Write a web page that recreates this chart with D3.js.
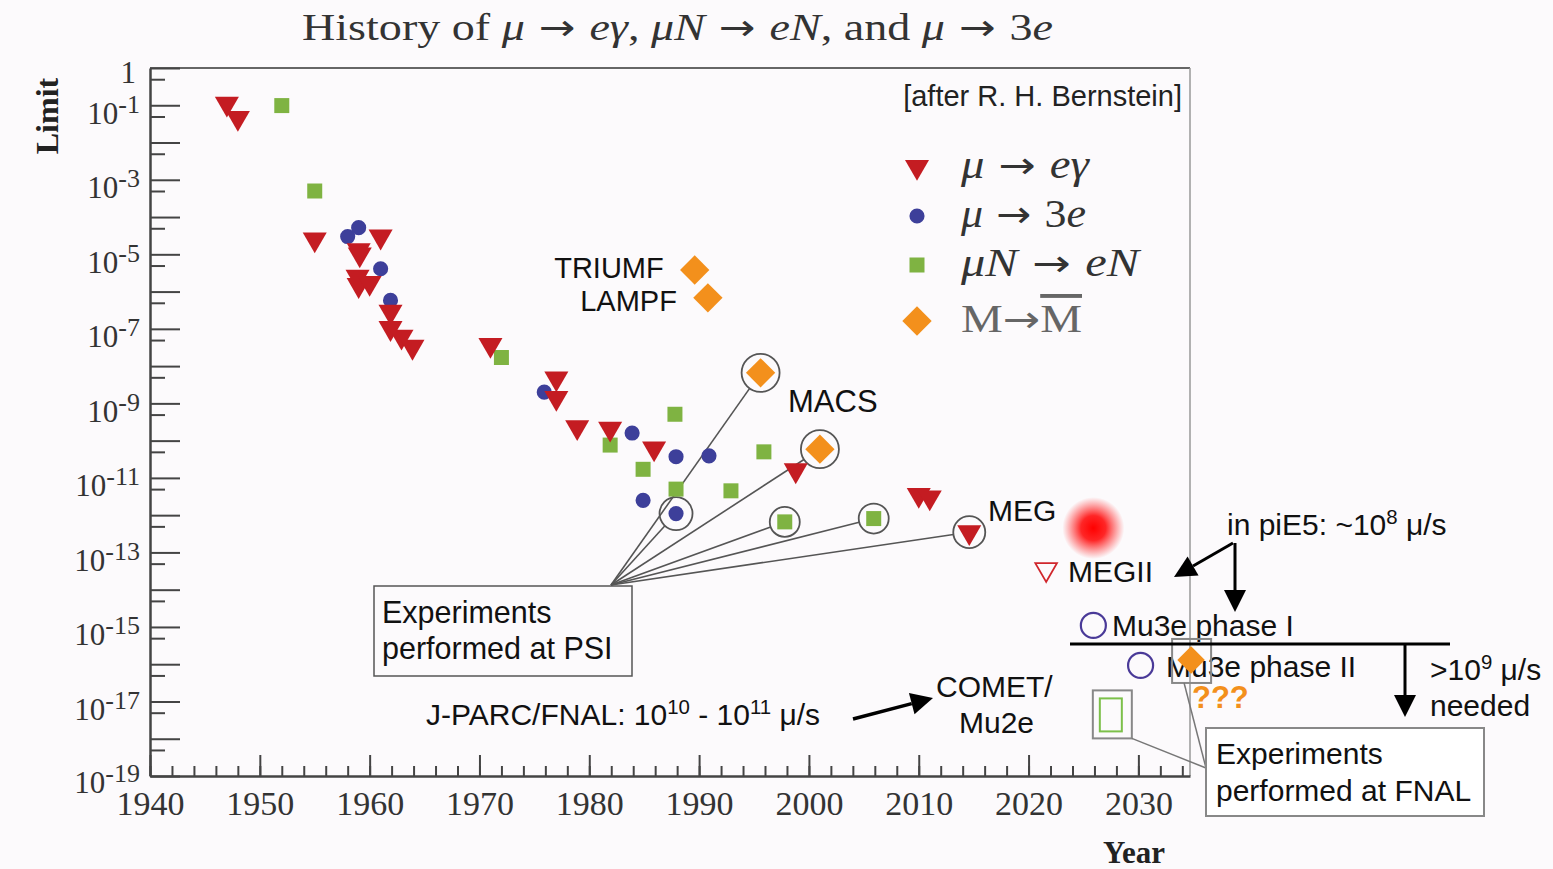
<!DOCTYPE html>
<html>
<head>
<meta charset="utf-8">
<script src="https://cdn.jsdelivr.net/npm/d3@7"></script>
<style>
  body { margin: 0; background: #fcfafc; }
  .serif { font-family: "Liberation Serif", "DejaVu Serif", serif; }
  .sans { font-family: "Liberation Sans", Arial, sans-serif; }
  .arrow { font-family: "DejaVu Sans", sans-serif; font-style: normal; }
</style>
</head>
<body>
<svg width="1553" height="869"></svg>
<script>
// ---- data ----
var yearsMuEG = [1947, 1948, 1955, 1959, 1959.1, 1961, 1958.9, 1959, 1960, 1961.9, 1961.9, 1962.9, 1963.9,
  1971, 1977, 1977, 1978.9, 1981.9, 1985.9, 1998.8, 2010, 2011, 2014.6];
var limitsMuEG = [1.1e-1, 4.6e-2, 2.5e-5, 1.3e-5, 1.0e-5, 3e-5, 2.5e-6, 1.5e-6, 1.7e-6, 2.9e-7, 1.05e-7, 6.2e-8, 3.3e-8,
  3.7e-8, 4.7e-9, 1.4e-9, 2.3e-10, 2.1e-10, 6.2e-11, 1.6e-11, 3.5e-12, 3e-12, 3.5e-13];

var yearsMu3E = [1958, 1959, 1961, 1961.9, 1975.9, 1983.9, 1987.9, 1990.9, 1984.9, 1987.9];
var limitsMu3E = [3e-5, 5.2e-5, 4.1e-6, 5.8e-7, 2e-9, 1.6e-10, 3.7e-11, 3.9e-11, 2.5e-12, 1.1e-12];

var yearsMuNEN = [1952, 1955, 1972, 1981.9, 1987.8, 1984.9, 1987.9, 1992.9, 1995.9, 1997.8, 2005.9];
var limitsMuNEN = [9.8e-2, 5e-4, 1.7e-8, 7.6e-11, 5.1e-10, 1.7e-11, 5e-12, 4.5e-12, 5e-11, 6.6e-13, 8.1e-13];

var yearsMM = [1989.6, 1990.8, 1995.6, 2001];
var limitsMM = [3.8e-6, 6.8e-7, 6.6e-9, 5.9e-11];
var labelsMM = ["TRIUMF", "LAMPF", "", ""];

// points circled as "performed at PSI": [series, index]
var psiPoints = [["mm", 2], ["mm", 3], ["mu3e", 9], ["munen", 9], ["munen", 10], ["mueg", 22]];

// future projections
var projNames = ["MEGII", "Mu3e phase I", "Mu3e phase II", "COMET/Mu2e", "MM future", "MEG glow"];
var projYears = [2021.6, 2025.9, 2030.2, 2027.4, 2034.8, 2025.9];
var projLimits = [3.5e-14, 1.1e-15, 9.3e-17, 4.5e-18, 1.3e-16, 4.5e-13];

var yMajor = d3.range(0, 20).map(function (k) { return Math.pow(10, -k); });
var yMinor = d3.range(1, 20).map(function (k) { return 5 * Math.pow(10, -k); });
var xMajor = d3.range(1940, 2031, 10);
var xMinor = d3.range(1940, 2035, 2);

var colEG = "#c41c22", col3E = "#3d3f9a", colNEN = "#7fb342", colMM = "#f3901c";

var svg = d3.select("svg");
var x = d3.scaleLinear().domain([1940, 2034.7]).range([150, 1190]);
var y = d3.scaleLog().domain([1, 1e-19]).range([68, 776]);

svg.append("rect").attr("width", 1553).attr("height", 869).attr("fill", "#fcfafc");

var defs = svg.append("defs");
var glow = defs.append("radialGradient").attr("id", "glow");
glow.append("stop").attr("offset", "0%").attr("stop-color", "#ff0000").attr("stop-opacity", 1);
glow.append("stop").attr("offset", "40%").attr("stop-color", "#ff0000").attr("stop-opacity", 0.85);
glow.append("stop").attr("offset", "100%").attr("stop-color", "#ff2020").attr("stop-opacity", 0);

// math-like text: parts are [string, kind] with kind 0 upright, 1 italic, 2 arrow
function mathText(t, parts) {
  parts.forEach(function (p) {
    var ts = t.append("tspan").text(p[0]);
    if (p[1] == 1) ts.attr("font-style", "italic");
    if (p[1] == 2) ts.attr("class", "arrow").attr("font-size", "0.95em");
  });
  return t;
}

// title
mathText(svg.append("text").attr("class", "serif").attr("x", 302).attr("y", 40)
  .attr("font-size", 38).attr("fill", "#333")
  .attr("textLength", 751).attr("lengthAdjust", "spacingAndGlyphs"),
  [["History of  ", 0], ["μ", 1], [" → ", 2], ["eγ", 1], [",  ", 0], ["μN", 1], [" → ", 2], ["eN", 1],
   [",  and  ", 0], ["μ", 1], [" → ", 2], ["3", 0], ["e", 1]]);

// frame
svg.append("line").attr("x1", 150).attr("x2", 1190).attr("y1", 68).attr("y2", 68)
  .attr("stroke", "#666").attr("stroke-width", 2);
svg.append("line").attr("x1", 1190).attr("x2", 1190).attr("y1", 68).attr("y2", 776)
  .attr("stroke", "#999").attr("stroke-width", 1.5);

// y axis
svg.append("g").attr("transform", "translate(150,0)")
  .call(d3.axisLeft(y).tickValues(yMinor).tickSize(-15).tickSizeOuter(0).tickFormat(""))
  .call(function (g) { g.select(".domain").remove(); g.selectAll("line").attr("stroke", "#444").attr("stroke-width", 2); });
var yAx = svg.append("g").attr("transform", "translate(150,0)")
  .call(d3.axisLeft(y).tickValues(yMajor).tickSize(-30).tickSizeOuter(0).tickFormat(""));
yAx.select(".domain").attr("stroke", "#444").attr("stroke-width", 2.5);
yAx.selectAll("line").attr("stroke", "#444").attr("stroke-width", 2);
yAx.selectAll(".tick").each(function (d, i) {
  if (i % 2 == 0 && i > 0) return;
  var t = d3.select(this).append("text").attr("class", "serif").attr("x", -10).attr("y", 18)
    .attr("dy", null).attr("fill", "#333").attr("font-size", 31).attr("text-anchor", "end");
  if (i == 0) { t.attr("x", -14).attr("y", 14).text("1"); return; }
  if (i == 19) t.attr("y", 16);
  t.append("tspan").text("10");
  t.append("tspan").attr("font-size", 26).attr("dy", -11).text("-" + i);
});

// x axis
svg.append("g").attr("transform", "translate(0,776)")
  .call(d3.axisBottom(x).tickValues(xMinor).tickSize(-10).tickSizeOuter(0).tickFormat(""))
  .call(function (g) { g.select(".domain").remove(); g.selectAll("line").attr("stroke", "#444").attr("stroke-width", 2); });
var xAx = svg.append("g").attr("transform", "translate(0,776)")
  .call(d3.axisBottom(x).tickValues(xMajor).tickSize(-21).tickSizeOuter(0).tickFormat(d3.format("d")));
xAx.select(".domain").attr("stroke", "#444").attr("stroke-width", 2.5);
xAx.selectAll("line").attr("stroke", "#444").attr("stroke-width", 2);
xAx.selectAll("text").attr("class", "serif").attr("font-size", 34).attr("fill", "#333")
  .attr("y", 39).attr("dy", null);

svg.append("text").attr("class", "serif").attr("font-weight", "bold").attr("font-size", 32)
  .attr("fill", "#222").attr("text-anchor", "middle")
  .attr("transform", "translate(58,116) rotate(-90)").text("Limit");
svg.append("text").attr("class", "serif").attr("font-weight", "bold").attr("font-size", 31)
  .attr("fill", "#222").attr("text-anchor", "middle").attr("x", 1134).attr("y", 863).text("Year");

// markers
var triDown = d3.symbol().type(d3.symbolTriangle).size(250);
var dot = d3.symbol().type(d3.symbolCircle).size(180);
var sq = d3.symbol().type(d3.symbolSquare).size(225);
var dia = d3.symbol().type(d3.symbolSquare).size(430);

var series = {
  mueg: { xs: yearsMuEG, ys: limitsMuEG, path: triDown, rot: 180, col: colEG, r: 16 },
  mu3e: { xs: yearsMu3E, ys: limitsMu3E, path: dot, rot: 0, col: col3E, r: 16.5 },
  munen: { xs: yearsMuNEN, ys: limitsMuNEN, path: sq, rot: 0, col: colNEN, r: 15 },
  mm: { xs: yearsMM, ys: limitsMM, path: dia, rot: 45, col: colMM, r: 19 }
};

// PSI circles and leader lines
var psiX = 611, psiY = 585;
var psiG = svg.append("g");
psiPoints.forEach(function (p) {
  var s = series[p[0]], cx = x(s.xs[p[1]]), cy = y(s.ys[p[1]]);
  var dx = cx - psiX, dy = cy - psiY, len = Math.sqrt(dx * dx + dy * dy);
  psiG.append("line").attr("x1", psiX).attr("y1", psiY)
    .attr("x2", cx - dx / len * s.r).attr("y2", cy - dy / len * s.r)
    .attr("stroke", "#555").attr("stroke-width", 1.6);
  psiG.append("circle").attr("cx", cx).attr("cy", cy).attr("r", s.r)
    .attr("fill", "none").attr("stroke", "#555").attr("stroke-width", 1.8);
});

["munen", "mu3e", "mueg", "mm"].forEach(function (key) {
  var s = series[key];
  svg.append("g").selectAll("path").data(s.xs).enter().append("path")
    .attr("d", s.path)
    .attr("transform", function (d, i) { return "translate(" + x(d) + "," + y(s.ys[i]) + ") rotate(" + s.rot + ")"; })
    .attr("fill", s.col);
});

// legend
var legItems = [
  { path: triDown, rot: 180, col: colEG, parts: [["μ", 1], [" → ", 2], ["eγ", 1]], fill: "#333", w: 128 },
  { path: dot, rot: 0, col: col3E, parts: [["μ", 1], [" → ", 2], ["3", 0], ["e", 1]], fill: "#333", w: 125 },
  { path: sq, rot: 0, col: colNEN, parts: [["μN", 1], [" → ", 2], ["eN", 1]], fill: "#333", w: 178 },
  { path: dia, rot: 45, col: colMM, parts: [["M", 0], ["→", 2], ["M", 0]], fill: "#666", w: 121 }
];
var legY = [167, 216, 265, 321];
legItems.forEach(function (it, i) {
  svg.append("path").attr("d", it.path)
    .attr("transform", "translate(917," + legY[i] + ") rotate(" + it.rot + ")").attr("fill", it.col);
  var t = mathText(svg.append("text").attr("class", "serif").attr("x", 961).attr("y", legY[i] + 11)
    .attr("font-size", 39).attr("fill", it.fill)
    .attr("textLength", it.w).attr("lengthAdjust", "spacingAndGlyphs"), it.parts);
  if (i == 3) t.selectAll("tspan").filter(function (d, j) { return j == 2; }).attr("text-decoration", "overline");
});

svg.append("text").attr("class", "sans").attr("x", 1182).attr("y", 106).attr("text-anchor", "end")
  .attr("font-size", 29).attr("fill", "#222").text("[after R. H. Bernstein]");

// labels next to muonium points
svg.append("g").selectAll("text").data(yearsMM).enter().append("text")
  .attr("class", "sans").attr("text-anchor", "end").attr("font-size", 29).attr("fill", "#111")
  .attr("x", function (d) { return x(d) - 31; })
  .attr("y", function (d, i) { return y(limitsMM[i]) + (i == 0 ? 8 : 13); })
  .text(function (d, i) { return labelsMM[i]; });

function label(tx, ty, str, size, anchor) {
  return svg.append("text").attr("class", "sans").attr("x", tx).attr("y", ty)
    .attr("font-size", size || 30).attr("fill", "#111").attr("text-anchor", anchor || "start").text(str);
}
label(788, 412, "MACS", 31);
label(988, 521, "MEG");

// projections
var glowR = 31;
svg.append("circle").attr("cx", x(projYears[5])).attr("cy", y(projLimits[5])).attr("r", glowR)
  .attr("fill", "url(#glow)");
svg.append("path").attr("d", triDown)
  .attr("transform", "translate(" + x(projYears[0]) + "," + y(projLimits[0]) + ") rotate(180) scale(0.9)")
  .attr("fill", "none").attr("stroke", "#d0262c").attr("stroke-width", 2);
label(1068, 582, "MEGII");
[1, 2].forEach(function (i) {
  svg.append("circle").attr("cx", x(projYears[i])).attr("cy", y(projLimits[i])).attr("r", 12.5)
    .attr("fill", "none").attr("stroke", "#4a3a98").attr("stroke-width", 2.2);
});
label(1112, 636, "Mu3e phase I", 30);
label(1166, 677, "Mu3e phase II", 30);

// COMET / Mu2e projection
var cmx = x(projYears[3]), cmy = y(projLimits[3]);
svg.append("rect").attr("x", cmx - 17).attr("y", cmy - 24).attr("width", 39).attr("height", 48)
  .attr("fill", "none").attr("stroke", "#888").attr("stroke-width", 2);
svg.append("rect").attr("x", cmx - 10).attr("y", cmy - 16).attr("width", 22).attr("height", 33)
  .attr("fill", "none").attr("stroke", "#7cc04a").attr("stroke-width", 2);

// muonium future
var mmx = x(projYears[4]), mmy = y(projLimits[4]);
svg.append("rect").attr("x", mmx - 19).attr("y", mmy - 21).attr("width", 39).attr("height", 44)
  .attr("fill", "none").attr("stroke", "#888").attr("stroke-width", 2);
svg.append("path").attr("d", d3.symbol().type(d3.symbolSquare).size(380))
  .attr("transform", "translate(" + mmx + "," + mmy + ") rotate(45)").attr("fill", colMM);
svg.append("text").attr("class", "sans").attr("x", 1192).attr("y", 708).attr("font-size", 31)
  .attr("font-weight", "bold").attr("fill", colMM).text("???");

// FNAL box and leaders
svg.append("line").attr("x1", 1206).attr("y1", 768).attr("x2", cmx + 22).attr("y2", cmy + 24)
  .attr("stroke", "#777").attr("stroke-width", 1.5);
svg.append("line").attr("x1", 1206).attr("y1", 768).attr("x2", mmx - 7).attr("y2", mmy + 23)
  .attr("stroke", "#777").attr("stroke-width", 1.5);
svg.append("rect").attr("x", 1206).attr("y", 728).attr("width", 278).attr("height", 88)
  .attr("fill", "#fff").attr("stroke", "#888").attr("stroke-width", 2);
label(1216, 764, "Experiments");
label(1216, 801, "performed at FNAL");

// PSI box
svg.append("rect").attr("x", 374).attr("y", 586).attr("width", 258).attr("height", 90)
  .attr("fill", "#fcfafc").attr("stroke", "#555").attr("stroke-width", 1.5);
label(382, 623, "Experiments", 30.5);
label(382, 659, "performed at PSI", 30.5);

// arrows
function arrow(x1, y1, x2, y2, w, hs) {
  var a = Math.atan2(y2 - y1, x2 - x1), L = hs || 20, Wd = (hs || 20) * 0.5;
  var bx = x2 - L * Math.cos(a), by = y2 - L * Math.sin(a);
  svg.append("line").attr("x1", x1).attr("y1", y1).attr("x2", bx).attr("y2", by)
    .attr("stroke", "#000").attr("stroke-width", w || 3);
  svg.append("path").attr("d", "M" + x2 + "," + y2 +
    "L" + (bx - Wd * Math.sin(a)) + "," + (by + Wd * Math.cos(a)) +
    "L" + (bx + Wd * Math.sin(a)) + "," + (by - Wd * Math.cos(a)) + "Z").attr("fill", "#000");
}

function supLabel(tx, ty, parts, size) {
  var t = label(tx, ty, "", size);
  parts.forEach(function (p) {
    var ts = t.append("tspan").text(p[0]);
    if (p[1]) ts.attr("font-size", size * 0.68).attr("dy", -11);
    else ts.attr("dy", p[2] ? 11 : null);
  });
  return t;
}
supLabel(426, 725, [["J-PARC/FNAL: 10"], ["10", 1], [" - 10", 0, 1], ["11", 1], [" μ/s", 0, 1]], 30);
arrow(853, 719, 933, 698, 3.5, 22);
label(936, 697, "COMET/");
label(959, 733, "Mu2e");

supLabel(1227, 535, [["in piE5: ~10"], ["8", 1], [" μ/s", 0, 1]], 30);
arrow(1233, 543, 1174, 577, 3, 22);
arrow(1235, 543, 1235, 612, 3, 22);

svg.append("line").attr("x1", 1070).attr("x2", 1450).attr("y1", 644).attr("y2", 644)
  .attr("stroke", "#000").attr("stroke-width", 3);
arrow(1405, 644, 1405, 717, 3, 22);
supLabel(1430, 680, [[">10"], ["9", 1], [" μ/s", 0, 1]], 30);
label(1430, 716, "needed", 30);
</script>
</body>
</html>
